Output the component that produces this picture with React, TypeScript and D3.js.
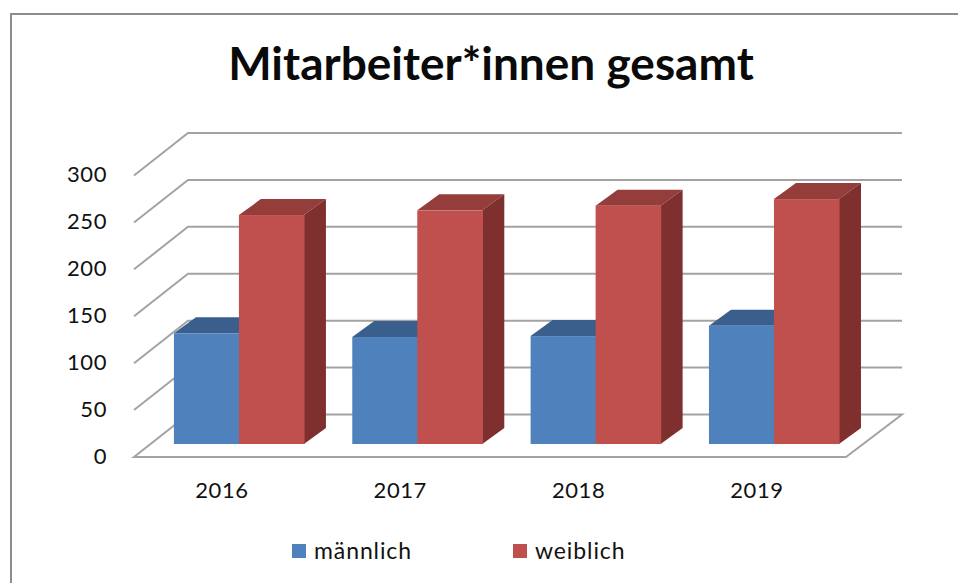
import React from "react";
import * as d3 from "d3";

const title = "Mitarbeiter*innen gesamt";
const years = ["2016", "2017", "2018", "2019"];
const maennlich = [118, 114, 115, 126];
const weiblich = [244, 249, 254, 261];
const seriesNames = ["männlich", "weiblich"];
const yTicks = [0, 50, 100, 150, 200, 250, 300];

const W = 958, H = 583;
const FONT = "Lato, 'Open Sans', sans-serif";
const GRID = "#a3a3a3";
const colors = [
  { front: "#4f81bd", top: "#3a5f8c", side: "#33557f" },
  { front: "#c0504d", top: "#943d3b", side: "#7f302e" },
];

const y = d3.scaleLinear().domain([0, 300]).range([457, 175.5]);
const barY = d3.scaleLinear().domain([0, 300]).range([444, 162.5]);
const x = d3.scaleBand().domain(years).range([149.85, 863.05]).paddingInner(0.271).paddingOuter(0.135);
const series = d3.scaleBand().domain(seriesNames).range([0, x.bandwidth()]);
const wallDx = 54, wallDy = -42.5, wallRight = 902, floorRight = 846, frontLeft = 134;
const depthDx = 22, depthDy = -16;

function Bar({ x0, w, v, c }: { x0: number; w: number; v: number; c: typeof colors[0] }) {
  const t = barY(v), b = barY(0), x1 = x0 + w;
  return (
    <g>
      <path d={`M${x0},${t}L${x0 + depthDx},${t + depthDy}L${x1 + depthDx},${t + depthDy}L${x1},${t}Z`} fill={c.top} />
      <path d={`M${x1},${t}L${x1 + depthDx},${t + depthDy}L${x1 + depthDx},${b + depthDy}L${x1},${b}Z`} fill={c.side} />
      <rect x={x0} y={t} width={w + 0.6} height={b - t} fill={c.front} />
    </g>
  );
}

export default function App() {
  return (
    <svg width={W} height={H} style={{ position: "fixed", left: 0, top: 0 }}>
      <rect width={W} height={H} fill="#fff" />
      <path d={`M11,${H}V14H${W}`} fill="none" stroke="#8c8c8c" strokeWidth={2} />
      <text x={491} y={80} textAnchor="middle" fontFamily={FONT} fontWeight={700} fontSize={46} fill="#0a0a0a">{title}</text>
      {yTicks.map((t) => (
        <g key={t}>
          <path
            d={t === 0
              ? `M${frontLeft},${y(t)}L${frontLeft + wallDx},${y(t) + wallDy}H${wallRight}L${floorRight},${y(t)}Z`
              : `M${frontLeft},${y(t)}L${frontLeft + wallDx},${y(t) + wallDy}H${wallRight}`}
            fill="none" stroke={GRID} strokeWidth={2}
          />
          <text x={107} y={y(t) + 6.5} textAnchor="end" fontFamily={FONT} fontSize={22} letterSpacing={0.6} fill="#111">{t}</text>
        </g>
      ))}
      {years.map((yr, i) => {
        const x0 = x(yr)!;
        const w = series.bandwidth();
        return (
          <g key={yr}>
            <Bar x0={x0 + series(seriesNames[0])!} w={w} v={maennlich[i]} c={colors[0]} />
            <Bar x0={x0 + series(seriesNames[1])!} w={w} v={weiblich[i]} c={colors[1]} />
            <text x={x0 + 48} y={498} textAnchor="middle" fontFamily={FONT} fontSize={22} letterSpacing={0.6} fill="#111">{yr}</text>
          </g>
        );
      })}
      {seriesNames.map((s, i) => {
        const lx = [292, 513][i];
        return (
          <g key={s}>
            <rect x={lx} y={544} width={14} height={14} fill={colors[i].front} />
            <text x={lx + 22} y={559} fontFamily={FONT} fontSize={23} letterSpacing={0.9} fill="#111">{s}</text>
          </g>
        );
      })}
    </svg>
  );
}
